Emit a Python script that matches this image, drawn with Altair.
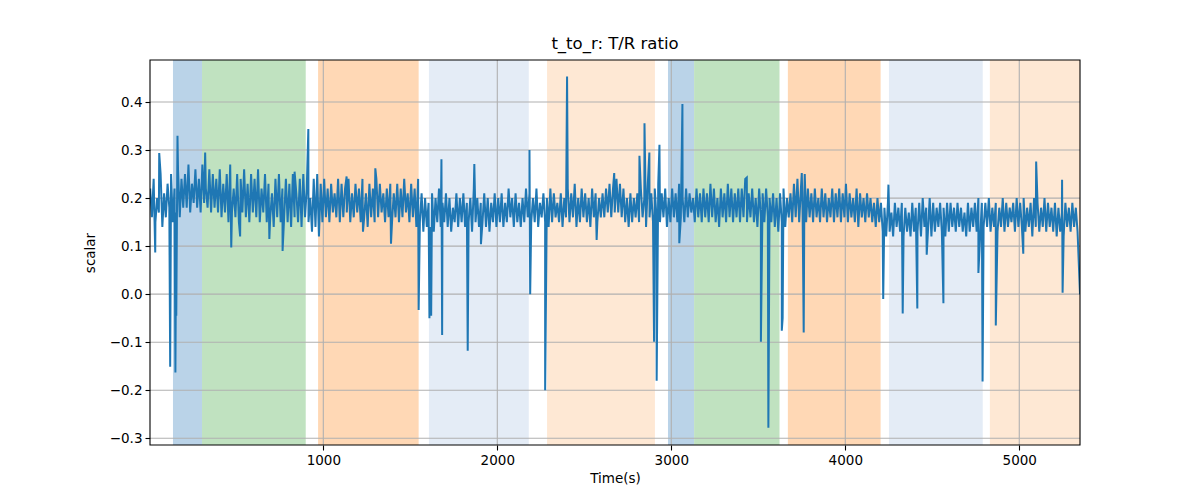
import altair as alt
import pandas as pd

# ---- shaded phases (start s, end s, fill colour) ----
span_start = [136, 303, 970, 1607, 2286, 2981, 3131, 3670, 4251, 4831]
span_end = [303, 899, 1548, 2181, 2906, 3131, 3622, 4203, 4790, 5349]
span_color = ["#bad3e8", "#c0e2c0", "#ffd8b5", "#e4ecf6", "#fee8d4",
              "#bad3e8", "#c0e2c0", "#ffd8b5", "#e4ecf6", "#fee8d4"]

# ---- noise band: upper values at t = 5 + 20 i, lower values at t = 15 + 20 i ----
upper_vals = [
    0.22, 0.24, 0.20, 0.25, 0.21, 0.23, 0.25, 0.22, 0.26, 0.24,
    0.25, 0.27, 0.23, 0.26, 0.24, 0.27, 0.22, 0.26, 0.25, 0.24,
    0.26, 0.23, 0.25, 0.27, 0.22, 0.25, 0.24, 0.26, 0.23, 0.25,
    0.24, 0.26, 0.22, 0.25, 0.23, 0.21, 0.24, 0.25, 0.22, 0.24,
    0.23, 0.25, 0.21, 0.24, 0.25, 0.22, 0.20, 0.24, 0.25, 0.23,
    0.24, 0.22, 0.23, 0.21, 0.24, 0.23, 0.22, 0.24, 0.21, 0.23,
    0.22, 0.24, 0.21, 0.23, 0.22, 0.24, 0.23, 0.21, 0.22, 0.23,
    0.21, 0.23, 0.22, 0.24, 0.21, 0.23, 0.22, 0.24, 0.21, 0.20,
    0.19, 0.21, 0.20, 0.22, 0.19, 0.21, 0.20, 0.18, 0.21, 0.20,
    0.21, 0.19, 0.20, 0.22, 0.20, 0.19, 0.21, 0.20, 0.19, 0.21,
    0.20, 0.21, 0.19, 0.22, 0.20, 0.21, 0.19, 0.20, 0.22, 0.21,
    0.20, 0.22, 0.19, 0.21, 0.20, 0.22, 0.21, 0.19, 0.21, 0.20,
    0.22, 0.21, 0.23, 0.20, 0.22, 0.21, 0.20, 0.22, 0.21, 0.20,
    0.21, 0.22, 0.23, 0.22, 0.24, 0.23, 0.22, 0.20, 0.21, 0.20,
    0.21, 0.22, 0.20, 0.23, 0.21, 0.22, 0.23, 0.21, 0.22, 0.20,
    0.22, 0.21, 0.23, 0.20, 0.22, 0.21, 0.20, 0.22, 0.21, 0.22,
    0.21, 0.23, 0.22, 0.20, 0.22, 0.21, 0.23, 0.22, 0.21, 0.22,
    0.22, 0.24, 0.21, 0.22, 0.20, 0.22, 0.21, 0.22, 0.20, 0.21,
    0.20, 0.21, 0.22, 0.20, 0.21, 0.23, 0.24, 0.22, 0.21, 0.22,
    0.21, 0.22, 0.20, 0.22, 0.21, 0.20, 0.22, 0.21, 0.22, 0.21,
    0.22, 0.21, 0.20, 0.22, 0.21, 0.20, 0.21, 0.20, 0.19, 0.20,
    0.19, 0.18, 0.19, 0.17, 0.19, 0.18, 0.19, 0.18, 0.17, 0.19,
    0.18, 0.19, 0.20, 0.18, 0.20, 0.19, 0.18, 0.19, 0.18, 0.19,
    0.19, 0.18, 0.19, 0.18, 0.17, 0.19, 0.18, 0.19, 0.20, 0.19,
    0.19, 0.20, 0.18, 0.19, 0.18, 0.20, 0.19, 0.18, 0.19, 0.20,
    0.19, 0.20, 0.18, 0.19, 0.20, 0.19, 0.18, 0.20, 0.19, 0.18,
    0.19, 0.18, 0.17, 0.19, 0.18, 0.19, 0.18,
]
lower_vals = [
    0.16, 0.15, 0.17, 0.14, 0.16, 0.18, 0.15, 0.17, 0.16, 0.18,
    0.18, 0.17, 0.19, 0.18, 0.17, 0.19, 0.18, 0.17, 0.18, 0.17,
    0.16, 0.17, 0.15, 0.17, 0.16, 0.15, 0.17, 0.16, 0.15, 0.17,
    0.16, 0.15, 0.17, 0.15, 0.16, 0.14, 0.16, 0.15, 0.16, 0.15,
    0.14, 0.16, 0.15, 0.14, 0.16, 0.15, 0.13, 0.14, 0.12, 0.15,
    0.16, 0.15, 0.17, 0.16, 0.15, 0.16, 0.17, 0.15, 0.16, 0.17,
    0.15, 0.16, 0.14, 0.16, 0.15, 0.16, 0.17, 0.15, 0.16, 0.15,
    0.16, 0.15, 0.16, 0.17, 0.15, 0.16, 0.14, 0.15, 0.13, 0.14,
    0.14, 0.13, 0.15, 0.14, 0.15, 0.14, 0.13, 0.15, 0.14, 0.15,
    0.14, 0.15, 0.13, 0.15, 0.14, 0.15, 0.14, 0.13, 0.15, 0.14,
    0.15, 0.14, 0.15, 0.16, 0.14, 0.15, 0.14, 0.15, 0.16, 0.15,
    0.15, 0.14, 0.16, 0.15, 0.14, 0.15, 0.16, 0.15, 0.14, 0.16,
    0.15, 0.16, 0.14, 0.15, 0.16, 0.15, 0.14, 0.16, 0.15, 0.16,
    0.16, 0.17, 0.16, 0.17, 0.17, 0.16, 0.15, 0.14, 0.15, 0.16,
    0.15, 0.16, 0.14, 0.16, 0.15, 0.16, 0.15, 0.16, 0.14, 0.15,
    0.16, 0.15, 0.16, 0.15, 0.16, 0.17, 0.15, 0.16, 0.15, 0.16,
    0.15, 0.16, 0.15, 0.14, 0.16, 0.15, 0.16, 0.15, 0.16, 0.15,
    0.16, 0.15, 0.16, 0.15, 0.14, 0.16, 0.15, 0.16, 0.15, 0.14,
    0.13, 0.15, 0.14, 0.16, 0.15, 0.16, 0.15, 0.16, 0.15, 0.16,
    0.15, 0.16, 0.15, 0.16, 0.15, 0.16, 0.15, 0.16, 0.15, 0.16,
    0.15, 0.16, 0.15, 0.14, 0.16, 0.15, 0.16, 0.15, 0.14, 0.15,
    0.13, 0.12, 0.13, 0.12, 0.14, 0.13, 0.12, 0.13, 0.12, 0.13,
    0.13, 0.12, 0.14, 0.13, 0.12, 0.13, 0.14, 0.13, 0.12, 0.13,
    0.14, 0.13, 0.14, 0.13, 0.12, 0.13, 0.14, 0.13, 0.12, 0.14,
    0.14, 0.13, 0.14, 0.13, 0.14, 0.13, 0.14, 0.15, 0.13, 0.14,
    0.14, 0.13, 0.14, 0.12, 0.14, 0.13, 0.14, 0.13, 0.14, 0.13,
    0.12, 0.13, 0.12, 0.14, 0.13, 0.14, 0.13,
]
band_t0 = 5
band_step = 20

# ---- isolated spikes (time s, value) ----
spike_t = [34, 57, 120, 150, 155, 162, 321, 471, 522, 690, 766, 835, 914,
           1134, 1228, 1299, 1389, 1548, 1610, 1620, 1679, 1683, 1830, 1868,
           1906, 2185, 2189, 2275, 2401, 2571, 2672, 2817, 2846, 2874, 2901,
           2916, 2932, 3046, 3064, 3434, 3515, 3558, 3635, 3640, 3750, 3761,
           3767, 4004, 4218, 4248, 4330, 4414, 4468, 4564, 4765, 4789, 4865,
           5023, 5097, 5246, 5249, 5349]
spike_v = [0.087, 0.294, -0.151, -0.163, -0.045, 0.33, 0.295, 0.097, 0.12,
           0.115, 0.09, 0.255, 0.344, 0.245, 0.13, 0.262, 0.105, -0.033,
           -0.05, -0.045, 0.281, -0.085, -0.118, 0.271, 0.104, 0.30, 0.0,
           -0.2, 0.453, 0.113, 0.252, 0.288, 0.356, 0.295, -0.099, -0.18,
           0.311, 0.106, 0.396, 0.243, -0.099, -0.278, -0.076, -0.05, 0.252,
           -0.08, 0.25, 0.23, -0.01, 0.228, -0.04, -0.03, 0.082, -0.019,
           0.044, -0.182, -0.065, 0.084, 0.276, 0.238, 0.003, 0.0]

y_ticks = [-0.3, -0.2, -0.1, 0.0, 0.1, 0.2, 0.3, 0.4]
x_ticks = [1000, 2000, 3000, 4000, 5000]
x_domain = [4, 5349]
y_domain = [-0.314, 0.4875]

W, H = 930, 385

up_t = [band_t0 + band_step * i for i in range(len(upper_vals))]
lo_t = [band_t0 + band_step * i + band_step / 2 for i in range(len(lower_vals))]
series = pd.DataFrame({"t": up_t + lo_t + spike_t,
                       "v": upper_vals + lower_vals + spike_v})
series = series.sort_values("t", kind="stable").reset_index(drop=True)
series["order"] = range(len(series))

spans = pd.DataFrame({"s": span_start, "e": span_end, "c": span_color})
ygrid = pd.DataFrame({"y": y_ticks})
xgrid = pd.DataFrame({"x": x_ticks})

xs = alt.Scale(domain=x_domain, nice=False, zero=False)
ys = alt.Scale(domain=y_domain, nice=False, zero=False)

common = dict(grid=False, domain=False, tickColor="black", tickSize=5,
              tickWidth=1.1, labelFontSize=13.5, labelColor="black",
              labelPadding=3, titleFontSize=13.5, titleFontWeight="normal",
              titleColor="black", labelFont="DejaVu Sans",
              titleFont="DejaVu Sans")
x_axis = alt.Axis(values=x_ticks, format="d", titlePadding=5, **common)
y_axis = alt.Axis(values=y_ticks,
                  labelExpr="replace(format(datum.value, '.1f'), '-', '\u2212')",
                  titlePadding=12, **common)

rects = alt.Chart(spans).mark_rect(opacity=1).encode(
    x=alt.X("s:Q", scale=xs, axis=x_axis, title="Time(s)"),
    x2="e:Q",
    color=alt.Color("c:N", scale=None, legend=None),
)

grid_h = alt.Chart(ygrid).mark_rule(color="#b0b0b0", strokeWidth=1.1).encode(
    y=alt.Y("y:Q", scale=ys, axis=y_axis, title="scalar")
)
grid_v = alt.Chart(xgrid).mark_rule(color="#b0b0b0", strokeWidth=1.1).encode(
    x=alt.X("x:Q", scale=xs, axis=x_axis, title="Time(s)")
)

line = alt.Chart(series).mark_line(color="#1f77b4", strokeWidth=2, clip=True).encode(
    x=alt.X("t:Q", scale=xs, axis=x_axis, title="Time(s)"),
    y=alt.Y("v:Q", scale=ys, axis=y_axis, title="scalar"),
    order="order:Q",
)

frame = alt.Chart(pd.DataFrame({"k": [0]})).mark_rect(
    filled=False, stroke="black", strokeWidth=1.1
).encode(x=alt.value(0), x2=alt.value(W), y=alt.value(0), y2=alt.value(H))

chart = alt.layer(rects, grid_h, grid_v, line, frame).properties(
    width=W,
    height=H,
    title=alt.TitleParams("t_to_r: T/R ratio", fontSize=16.5, fontWeight="normal",
                          font="DejaVu Sans", color="black", offset=7),
    autosize=alt.AutoSizeParams(type="none"),
    padding={"left": 150, "top": 60, "right": 120, "bottom": 55},
    background="white",
).configure_view(stroke=None)

chart.save("out.html", embed_options={"renderer": "svg", "actions": False})
